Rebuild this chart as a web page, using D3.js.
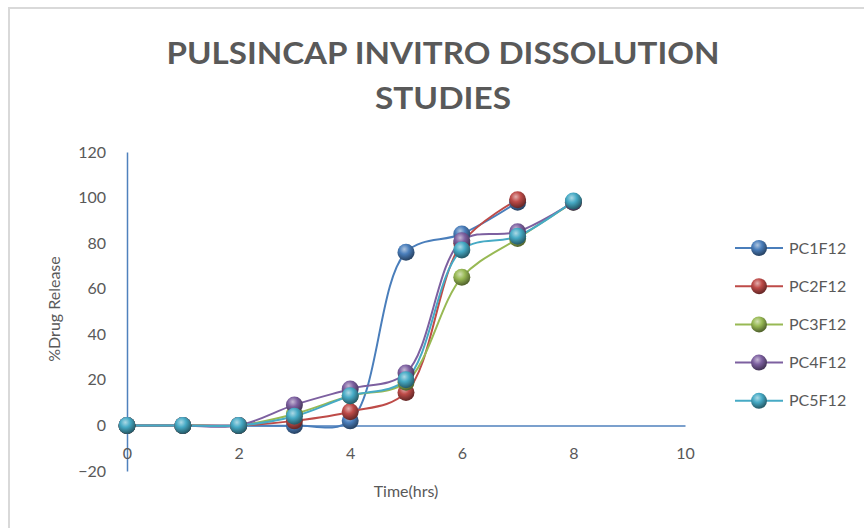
<!DOCTYPE html>
<html>
<head>
<meta charset="utf-8">
<script src="https://cdn.jsdelivr.net/npm/d3@7"></script>
<style>
  body { margin: 0; background: #fff; }
  text { font-family: Lato, "Open Sans", sans-serif; fill: #595959; }
</style>
</head>
<body>
<div id="chart-area"></div>
<script>
// data
var hours = [0, 1, 2, 3, 4, 5, 6, 7, 8];
var seriesNames = ["PC1F12", "PC2F12", "PC3F12", "PC4F12", "PC5F12"];
var pc1 = [0, 0, 0, 0, 2, 76, 84, 98];
var pc2 = [0, 0, 0, 2, 6, 14.5, 80, 99];
var pc3 = [0, 0, 0, 5, 13, 19, 65, 82, 98];
var pc4 = [0, 0, 0, 9, 16, 23, 81, 85, 98];
var pc5 = [0, 0, 0, 4, 13, 20, 77, 83, 98.5];
var seriesValues = [pc1, pc2, pc3, pc4, pc5];
var colors = ["#4a7ebb", "#be4b48", "#98b954", "#7d60a0", "#46aac5"];
var xTicks = [0, 2, 4, 6, 8, 10];
var yTicks = [-20, 0, 20, 40, 60, 80, 100, 120];

var svg = d3.select("#chart-area").append("svg")
	.attr("width", 864)
	.attr("height", 528);

// chart frame
svg.append("path")
	.attr("d", "M9,528 V8 H864")
	.attr("fill", "none")
	.attr("stroke", "#d9d9d9")
	.attr("stroke-width", 2);

var x = d3.scaleLinear().domain([0, 10]).range([127, 685]);
var y = d3.scaleLinear().domain([-20, 120]).range([471, 152]);

var defs = svg.append("defs");
colors.forEach((c, i) => {
	var g = defs.append("radialGradient")
		.attr("id", "ball" + i)
		.attr("cx", "40%").attr("cy", "32%").attr("r", "65%");
	g.append("stop").attr("offset", "0%").attr("stop-color", d3.interpolateRgb(c, "#fff")(0.55));
	g.append("stop").attr("offset", "45%").attr("stop-color", c);
	g.append("stop").attr("offset", "100%").attr("stop-color", d3.interpolateRgb(c, "#000")(0.45));
});

// title
svg.append("text")
	.attr("x", 443).attr("y", 64)
	.attr("text-anchor", "middle")
	.attr("font-size", "30px")
	.attr("font-weight", "bold")
	.attr("textLength", 553)
	.attr("lengthAdjust", "spacingAndGlyphs")
	.text("PULSINCAP INVITRO DISSOLUTION");
svg.append("text")
	.attr("x", 443).attr("y", 109)
	.attr("text-anchor", "middle")
	.attr("font-size", "30px")
	.attr("font-weight", "bold")
	.attr("textLength", 136)
	.attr("lengthAdjust", "spacingAndGlyphs")
	.text("STUDIES");

// axes
var yAxis = svg.append("g").attr("transform", "translate(" + x(0) + ",0)")
	.call(d3.axisLeft(y).tickValues(yTicks).tickSize(0).tickPadding(21));
yAxis.select(".domain").attr("stroke", "#4f81bd").attr("stroke-width", 1.5);
yAxis.selectAll("text").attr("font-size", "16px").attr("fill", "#595959")
	.attr("font-family", "Lato, sans-serif");

var xAxis = svg.append("g").attr("transform", "translate(0," + y(0) + ")")
	.call(d3.axisBottom(x).tickValues(xTicks).tickSize(0).tickPadding(22));
xAxis.select(".domain").attr("stroke", "#4f81bd").attr("stroke-width", 1.5);
xAxis.selectAll("text").attr("font-size", "16px").attr("fill", "#595959")
	.attr("font-family", "Lato, sans-serif");

svg.append("text")
	.attr("x", 406).attr("y", 497)
	.attr("text-anchor", "middle")
	.attr("font-size", "16px")
	.text("Time(hrs)");
svg.append("text")
	.attr("transform", "translate(60,309) rotate(-90)")
	.attr("text-anchor", "middle")
	.attr("font-size", "16px")
	.text("%Drug Release");

// lines
var line = d3.line()
	.x((d, i) => x(hours[i]))
	.y((d) => y(d))
	.curve(d3.curveCatmullRom.alpha(0.5));

seriesValues.forEach((vals, i) => {
	svg.append("path")
		.attr("d", line(vals))
		.attr("fill", "none")
		.attr("stroke", colors[i])
		.attr("stroke-width", 2);
});
seriesValues.forEach((vals, i) => {
	svg.append("g").selectAll("circle").data(vals).enter()
		.append("circle")
		.attr("cx", (d, j) => x(hours[j]))
		.attr("cy", (d) => y(d))
		.attr("r", 8.5)
		.attr("fill", "url(#ball" + i + ")");
});

// legend
var legend = svg.append("g");
seriesNames.forEach((name, i) => {
	var ly = 248 + i * 38.2;
	legend.append("line")
		.attr("x1", 735).attr("x2", 783)
		.attr("y1", ly).attr("y2", ly)
		.attr("stroke", colors[i]).attr("stroke-width", 2);
	legend.append("circle")
		.attr("cx", 759).attr("cy", ly).attr("r", 8)
		.attr("fill", "url(#ball" + i + ")");
	legend.append("text")
		.attr("x", 789).attr("y", ly + 5.5)
		.attr("font-size", "16px")
		.text(name);
});
</script>
</body>
</html>
